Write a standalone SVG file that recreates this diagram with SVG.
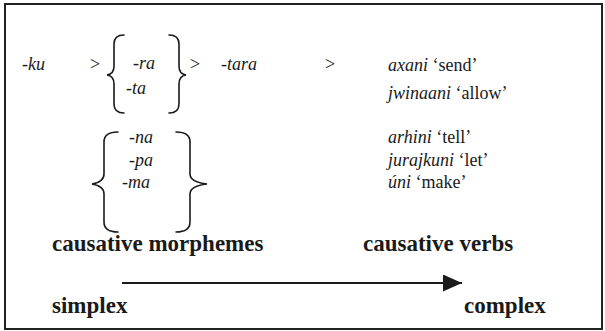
<svg xmlns="http://www.w3.org/2000/svg" width="605" height="331" viewBox="0 0 605 331">
  <style>
    .it { font-family: "Liberation Serif", "Times New Roman", serif; font-style: italic; font-size: 18px; fill: #1a1a1a; }
    .rm { font-family: "Liberation Serif", "Times New Roman", serif; font-size: 18px; fill: #1a1a1a; }
    .bd { font-family: "Liberation Serif", "Times New Roman", serif; font-weight: bold; font-size: 23px; fill: #1a1a1a; }
    .brace { fill: none; stroke: #1a1a1a; stroke-width: 1.6; stroke-linecap: round; }
    .frame { fill: none; stroke: #222; stroke-width: 2; }
  </style>
  <defs>
    <marker id="head" viewBox="0 0 19 17" refX="19" refY="8.5" markerWidth="19" markerHeight="17" markerUnits="userSpaceOnUse" orient="auto">
      <path d="M0,0 L19,8.5 L0,17 z" fill="#1a1a1a"/>
    </marker>
  </defs>
  <rect class="frame" x="5" y="4" width="597" height="325"/>

  <!-- first row: morpheme chain -->
  <g id="ku"><text class="it" x="22" y="70">-ku</text></g>
  <g id="gt1"><text class="rm" x="90" y="70">&gt;</text></g>
  <g id="ra-ta">
    <path class="brace" d="M124,35 Q114,35 114,44 L114,66 Q114,74 107,75 Q114,76 114,84 L114,104 Q114,113 124,113"/>
    <text class="it" x="133" y="69">-ra</text>
    <text class="it" x="126" y="94">-ta</text>
    <path class="brace" d="M169,35 Q179,35 179,44 L179,66 Q179,74 186,75 Q179,76 179,84 L179,104 Q179,113 169,113"/>
  </g>
  <g id="gt2"><text class="rm" x="190" y="70">&gt;</text></g>
  <g id="tara"><text class="it" x="221" y="70">-tara</text></g>
  <g id="gt3"><text class="rm" x="325" y="70">&gt;</text></g>

  <!-- second group of morphemes -->
  <g id="na-pa-ma">
    <path class="brace" d="M118,132 Q104,132 104,142 L104,174 Q104,182 92,184 Q104,186 104,194 L104,222 Q104,232 118,232"/>
    <text class="it" x="129" y="143">-na</text>
    <text class="it" x="129" y="166">-pa</text>
    <text class="it" x="122" y="188">-ma</text>
    <path class="brace" d="M176,132 Q190,132 190,142 L190,174 Q190,182 207,184 Q190,186 190,194 L190,222 Q190,232 176,232"/>
  </g>

  <!-- verbs -->
  <g id="verbs1">
    <text x="388" y="71"><tspan class="it">axani</tspan><tspan class="rm"> ‘send’</tspan></text>
    <text x="388" y="99"><tspan class="it">jwinaani</tspan><tspan class="rm"> ‘allow’</tspan></text>
  </g>
  <g id="verbs2">
    <text x="388" y="143"><tspan class="it">arhini</tspan><tspan class="rm"> ‘tell’</tspan></text>
    <text x="388" y="166"><tspan class="it">jurajkuni</tspan><tspan class="rm"> ‘let’</tspan></text>
    <text x="388" y="188"><tspan class="it">úni</tspan><tspan class="rm"> ‘make’</tspan></text>
  </g>

  <!-- headings -->
  <g id="label-morphemes"><text class="bd" x="52" y="251">causative morphemes</text></g>
  <g id="label-verbs"><text class="bd" x="363" y="251">causative verbs</text></g>
  <g id="label-simplex"><text class="bd" x="52" y="313">simplex</text></g>
  <g id="label-complex"><text class="bd" x="464" y="313">complex</text></g>

  <!-- scale arrow -->
  <g id="connectors">
    <line x1="122" y1="283" x2="462" y2="283" stroke="#1a1a1a" stroke-width="2" marker-end="url(#head)"/>
  </g>
</svg>
